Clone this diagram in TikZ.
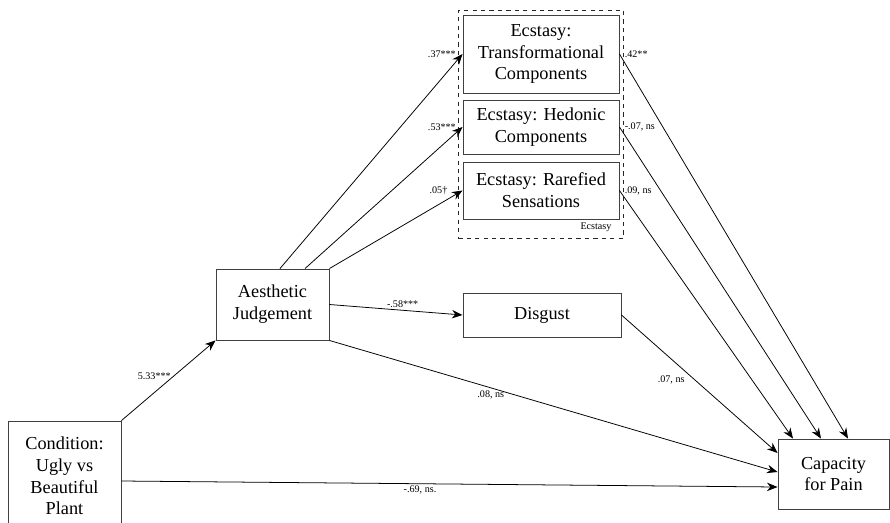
\documentclass[tikz,border=0pt]{standalone}
\usepackage{fontspec}
\setmainfont{Liberation Serif}
\usetikzlibrary{arrows.meta,positioning,fit,calc}
\tikzset{
       arr/.style = {-{Stealth[length=7.5pt,width=6pt]}, line width=0.55pt},   % path arrows
      base/.style = {draw=black!75, line width=0.65pt, align=center, inner sep=1pt,
                     font=\fontsize{13}{15.5}\selectfont},
      coef/.style = {font=\fontsize{7.2}{8.5}\selectfont, inner sep=1.5pt},
   groupbox/.style = {draw=black!85, dashed, line width=0.6pt, inner sep=3pt},
        }

\begin{document}
\begin{tikzpicture}[x=0.025cm,y=-0.025cm,>={Stealth}]
\useasboundingbox (0,0) rectangle (890,522);
% ecstasy mediators
\node[base, minimum width=3.9cm, minimum height=1.95cm] (trans) at (541,54) {Ecstasy:\\Transformational\\Components};
\node[base, minimum width=3.9cm, minimum height=1.35cm] (hedon) at (541,127) {Ecstasy: Hedonic\\Components};
\node[base, minimum width=3.9cm, minimum height=1.425cm] (rare) at (541,190.5) {Ecstasy: Rarefied\\Sensations};
\node[coef, below left=0.5pt and 4pt of rare.south east] (ecst) {Ecstasy};
\node[groupbox, fit=(trans)(rare)(ecst)] (ecbox) {};
% other boxes
\node[base, minimum width=2.825cm, minimum height=1.775cm] (aesth) at (272.5,304.5) {Aesthetic\\Judgement};
\node[base, minimum width=3.95cm, minimum height=1.1cm] (disg) at (542,315) {Disgust};
\node[base, minimum width=2.825cm, minimum height=2.75cm] (cond) at (64.5,476) {Condition:\\Ugly vs\\Beautiful\\Plant};
\node[base, minimum width=2.775cm, minimum height=1.75cm] (cap) at (833.5,474) {Capacity\\for Pain};
% paths
\draw[arr] (cond.north east) -- node[coef, pos=0.55, left] {5.33***} (aesth.south west);
\draw[arr] ([yshift=-0.125cm]cond.east) -- node[coef, pos=0.455, below] {-.69, ns.} ([yshift=-0.325cm]cap.west);
\draw[arr] ([xshift=0.1875cm]aesth.north) -- node[coef, at end, left=3pt] {.37***} (trans.west);
\draw[arr] ([xshift=0.8125cm]aesth.north) -- node[coef, at end, left=3pt] {.53***} (hedon.west);
\draw[arr] (aesth.north east) -- node[coef, at end, left=9pt] {.05\textdagger} (rare.west);
\draw[arr] (aesth.east) -- node[coef, pos=0.55, above] {-.58***} (disg.west);
\draw[arr] (aesth.south east) -- node[coef, pos=0.36, below] {.08, ns} ([yshift=0.05cm]cap.west);
\draw[arr] (disg.east) -- node[coef, pos=0.42, below left] {.07, ns} ([yshift=0.525cm]cap.west);
\draw[arr] (trans.east) -- node[coef, at start, right=2pt] {.42**} ([xshift=0.3625cm]cap.north);
\draw[arr] (hedon.east) -- node[coef, at start, right=2pt] {-.07, ns} ([xshift=-0.3125cm]cap.north);
\draw[arr] (rare.east) -- node[coef, at start, right=2pt] {.09, ns} ([xshift=-1.0125cm]cap.north);
\end{tikzpicture}
\end{document}
